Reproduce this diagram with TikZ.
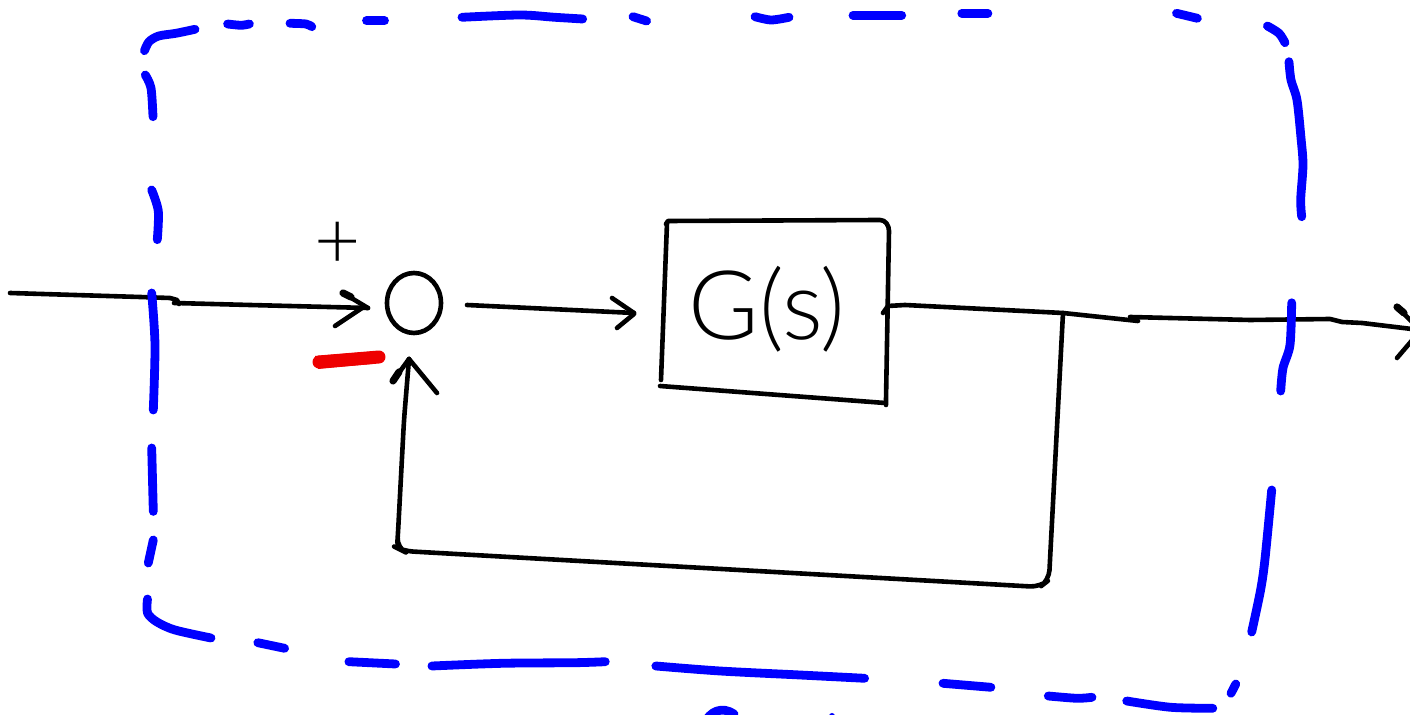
\documentclass[tikz,border=0pt]{standalone}
\usepackage{fontspec}
\usetikzlibrary{shapes.geometric}
\newfontfamily\hand{Lato Light}
\definecolor{inkblue}{RGB}{0,0,255}
\definecolor{inkred}{RGB}{238,0,0}
\begin{document}
\begin{tikzpicture}[x=0.5pt,y=-0.5pt,
  inkline/.style={line width=2.3pt,line cap=round,line join=round,draw=black},
  heavy/.style={line width=3.6pt,line cap=round,draw=black},
  bluestroke/.style={line width=4.4pt,line cap=round,line join=round,draw=inkblue},
  redstroke/.style={line width=6.5pt,line cap=round,line join=round,draw=inkred}]
\useasboundingbox (0,0) rectangle (1410,715);
\clip (0,0) rectangle (1410,715);

% ---------- key points ----------
\coordinate (in)     at (10,293);
\coordinate (inA)    at (170,298);
\coordinate (inB)    at (179,304);
\coordinate (inC)    at (174,303);
\coordinate (tipIn)  at (368,308);
\coordinate (sumOut) at (467,305);
\coordinate (tipG)   at (634,313);
\coordinate (gOut)   at (883,313);
\coordinate (junc)   at (1063,313);
\coordinate (outA)   at (1138,321);
\coordinate (outB)   at (1130,317);
\coordinate (tipOut) at (1420,330);
\coordinate (fbC1)   at (1049,580);
\coordinate (fbC2)   at (397,548);
\coordinate (tipFb)  at (409,359);

% ---------- summing junction and plant ----------
\node[inkline, ellipse, inner sep=0pt, minimum width=27pt, minimum height=30pt] (sum) at (414,303) {};
\node[font=\hand\fontsize{40}{44}\selectfont, inner sep=0pt] (plus) at (338,245) {+};
\node[font=\hand\fontsize{48}{54}\selectfont, inner sep=0pt] (plant) at (767,309) {G(s)};

% plant block outline
\draw[inkline] (666,224) -- (668,221) -- (880,220) to[out=0,in=90] (889,231) -- (886,400) -- (886,405);
\draw[inkline] (667,223) -- (661,380);
\draw[inkline] (660,386) -- (885,403);

% minus mark
\fill[inkred] (315,356) -- (380,351) -- (384,358) -- (372,364) -- (318,369) -- cycle;
\draw[redstroke] (319,362) -- (379,357);

% ---------- signal lines ----------
% input into the junction
\draw[inkline] (in) -- (140,297) -- (inA) -- (177,300) -- (inB);
\draw[inkline] (inC) -- (250,305) -- (tipIn);
\draw[inkline] (343,293) -- (tipIn);
\draw[heavy] (343,293) -- (351,297);
\draw[inkline] (335,326) -- (362,308);

% junction to plant
\draw[inkline] (sumOut) -- (tipG);
\draw[inkline] (612,298) -- (tipG);
\draw[inkline] (617,328) -- (634,314);

% plant output
\draw[inkline] (gOut) -- (888,306) -- (905,305) -- (junc) -- (outA);
\draw[inkline] (outB) -- (1250,320) -- (1330,319) -- (1342,322) -- (1362,323) -- (tipOut);
\draw[inkline] (1397,307) -- (tipOut);
\draw[heavy] (1397,307) -- (1404,313);
\draw[inkline] (1397,358) -- (1420,331);

% feedback path
\draw[inkline, rounded corners=5pt] (junc) -- (1050,560) -- (fbC1) -- (1040,587) -- (403,551) -- (fbC2) -- (398,533) -- (404,420) -- (tipFb);
\draw[inkline] (393,381) -- (tipFb);
\draw[heavy] (393,381) -- (399,372);
\draw[inkline] (437,393) -- (tipFb);

% ---------- dashed boundary ----------
% top
\draw[bluestroke] plot[smooth] coordinates {(144.5,50.7) (149,41.7) (158.7,36) (176,33.3) (195,29.3)};
\draw[bluestroke] plot[smooth] coordinates {(227.6,24) (241,25.3) (249.4,24)};
\draw[bluestroke] plot[smooth] coordinates {(290,23.3) (306,24) (311.8,26.7)};
\draw[bluestroke] (366.5,20.7) -- (384.5,20.7);
\draw[bluestroke] plot[smooth] coordinates {(462,17.3) (520,15) (554.8,17.3) (582.7,19)};
\draw[bluestroke] (633,16.7) -- (646.6,21);
\draw[bluestroke] plot[smooth] coordinates {(755,16.7) (771,20) (789,17.3)};
\draw[bluestroke] (853,15.3) -- (901.7,15.3);
\draw[bluestroke] (961.8,13.3) -- (987.9,13.3);
\draw[bluestroke] (1176.5,13.3) -- (1197.4,18.3);
\draw[bluestroke] plot[smooth] coordinates {(1267.4,26) (1279,33.3) (1285,42.7)};
% right
\draw[bluestroke] plot[smooth] coordinates {(1289,61.7) (1291,80) (1297,100) (1301,138) (1303,165) (1300.7,199.5) (1301.7,216.7)};
\draw[bluestroke] plot[smooth] coordinates {(1291.7,302.8) (1290,345) (1283,368) (1280.7,391)};
\draw[bluestroke] plot[smooth] coordinates {(1271.7,490) (1265,559) (1260.6,590) (1251.7,632)};
\draw[bluestroke] (1235.8,684) -- (1231,693.3);
% bottom
\draw[bluestroke] plot[smooth] coordinates {(1212.8,708.3) (1170.7,707.3) (1126.7,701)};
\draw[bluestroke] plot[smooth] coordinates {(1092,697.3) (1077,698.3) (1048.3,696)};
\draw[bluestroke] (990.9,687.3) -- (943,683.3);
\draw[bluestroke] plot[smooth] coordinates {(864.6,678.3) (800,675) (720,671) (655.8,666)};
\draw[bluestroke] plot[smooth] coordinates {(605.3,661.7) (575.4,662.7) (502.7,663.3) (431.9,666)};
\draw[bluestroke] (395.5,664) -- (348.9,661.7);
\draw[bluestroke] (284.6,648.3) -- (257.8,642.7);
\draw[bluestroke] plot[smooth] coordinates {(211,638) (175,630) (157,622) (147.5,613) (147.5,599)};
% left
\draw[bluestroke] (148.3,563) -- (153.3,540);
\draw[bluestroke] (153.3,511.4) -- (151.7,448);
\draw[bluestroke] plot[smooth] coordinates {(153.3,410) (155,345) (151.7,293)};
\draw[bluestroke] plot[smooth] coordinates {(157.3,239.7) (158.3,211) (151.7,190)};
\draw[bluestroke] plot[smooth] coordinates {(153,116.7) (151,88) (145.3,75)};
% strokes entering from below the lower edge
\draw[bluestroke] (704,724) .. controls (710,711) and (722,706) .. (734,714);
\fill[inkblue] (832,716) circle (3);
\end{tikzpicture}
\end{document}
